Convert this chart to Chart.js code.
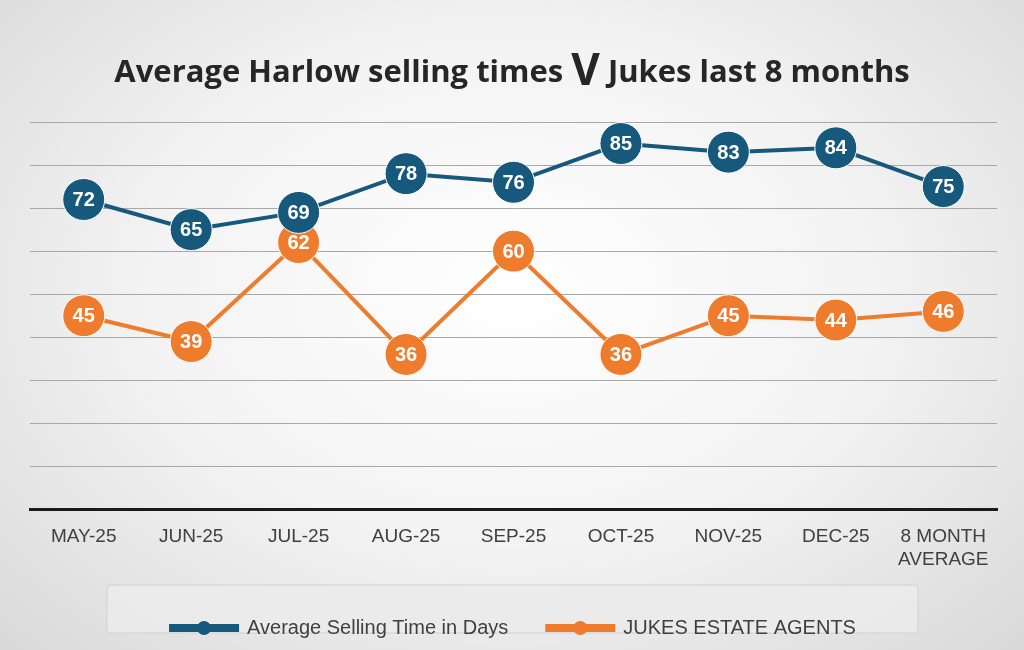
<!DOCTYPE html>
<html><head><meta charset="utf-8">
<script src="https://cdn.jsdelivr.net/npm/chart.js@4"></script>
<style>
html,body{margin:0;padding:0;width:1024px;height:650px;overflow:hidden;
 background:radial-gradient(ellipse at 50% 45%,#ffffff 0%,#f3f3f3 50%,#d9d9d9 100%);}
#title{position:absolute;top:38px;left:0;width:1024px;text-align:center;font-family:"Open Sans",sans-serif;
 font-weight:700;font-size:31px;color:#262626;}
#title span{font-size:44px;vertical-align:-3px;}
#wrap{position:absolute;left:0;top:0;width:1024px;height:650px;}
</style></head>
<body>
<div id="wrap"><canvas id="c"></canvas></div>
<div id="title">Average Harlow selling times <span>V</span> Jukes last 8 months</div>
<script>
// Données
const labels = ["MAY-25","JUN-25","JUL-25","AUG-25","SEP-25","OCT-25","NOV-25","DEC-25",["8 MONTH","AVERAGE"]];
const harlow = [72,65,69,78,76,85,83,84,75];
const jukes  = [45,39,62,36,60,36,45,44,46];
const BLUE = "#17597c", ORANGE = "#ef7b2d";

// étiquettes blanches dans les ronds + cadre de légende
const extras = {
  id:"extras",
  beforeDraw(chart){
    const ctx = chart.ctx;
    ctx.save();
    ctx.fillStyle = "rgba(235,235,235,0.9)";
    ctx.strokeStyle = "#d0d0d0";
    ctx.beginPath(); ctx.roundRect(107, 585, 811, 48, 4); ctx.fill(); ctx.stroke();
    ctx.restore();
  },
  afterDraw(chart){
    const ctx = chart.ctx;
    ctx.save();
    ctx.font = "bold 20px 'Liberation Sans', Arial, sans-serif";
    ctx.fillStyle = "#fff"; ctx.textAlign = "center"; ctx.textBaseline = "middle";
    chart.data.datasets.forEach((ds,i)=>{
      chart.getDatasetMeta(i).data.forEach((p,j)=>ctx.fillText(ds.data[j], p.x, p.y+1));
    });
    // ronds de légende
    chart.legend.legendHitBoxes.forEach((b,i)=>{
      ctx.fillStyle = chart.data.datasets[i].borderColor;
      ctx.beginPath(); ctx.arc(b.left+33, b.top+b.height/2, 7, 0, Math.PI*2); ctx.fill();
    });
    ctx.restore();
  }
};

new Chart(document.getElementById("c"), {
  type:"line",
  data:{ labels, datasets:[
    { label:"Average Selling Time in Days", data:harlow, borderColor:BLUE, backgroundColor:BLUE,
      borderWidth:4, pointRadius:21, pointHoverRadius:21, pointBorderColor:"#fff", pointBorderWidth:1, tension:0 },
    { label:"JUKES ESTATE AGENTS", data:jukes, borderColor:ORANGE, backgroundColor:ORANGE,
      borderWidth:4, pointRadius:21, pointHoverRadius:21, pointBorderColor:"#fff", pointBorderWidth:1, tension:0 }
  ]},
  options:{
    responsive:true, maintainAspectRatio:false, animation:false,
    layout:{ padding:{ top:122, left:30, right:27, bottom:2 } },
    clip:false,
    scales:{
      x:{ offset:true, grid:{ display:false }, border:{ color:"#1a1a1a", width:3 },
          ticks:{ color:"#404040", font:{ size:19, family:"'Liberation Sans', Arial, sans-serif" }, maxRotation:0, padding:8 } },
      y:{ min:0, max:90, ticks:{ stepSize:10, display:false }, border:{ display:false },
          grid:{ color:"#a8a8a8", lineWidth:1, drawTicks:false } }
    },
    plugins:{
      tooltip:{ enabled:false },
      legend:{ position:"bottom",
        labels:{ boxWidth:66, boxHeight:4, padding:39, color:"#404040",
          font:{ size:20, family:"'Liberation Sans', Arial, sans-serif" } } }
    }
  },
  plugins:[extras]
});
</script>
</body></html>
